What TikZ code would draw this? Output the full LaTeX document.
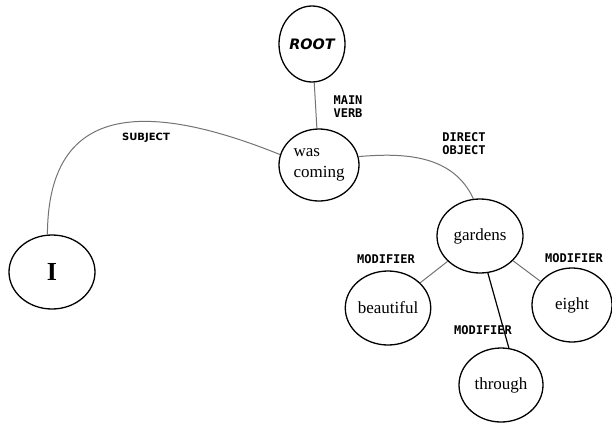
\documentclass[tikz,border=0pt]{standalone}
\usepackage{fontspec}
\setmainfont{Liberation Serif}
\setsansfont{DejaVu Sans}
\setmonofont{DejaVu Sans Mono}
\usetikzlibrary{shapes}

\begin{document}
\begin{tikzpicture}[x=1pt,y=-1pt]
\tikzstyle{word}=[ellipse,draw,line width=1.3pt,inner sep=0pt,minimum width=84,minimum height=74,font=\fontsize{17}{21}\selectfont]
\tikzstyle{rel}=[font=\ttfamily\bfseries\fontsize{12}{13}\selectfont,align=left,inner sep=0pt]
\tikzstyle{link}=[draw=black!55,line width=1pt]
\useasboundingbox (0,0) rectangle (612,423);
\node[word,minimum width=66,minimum height=76,font=\sffamily\bfseries\itshape\Large] (root) at (312,44) {ROOT};
\node[word,minimum width=80,minimum height=72,align=left] (verb) at (319,165) {was\\coming};
\node[word,minimum width=86,minimum height=74,font=\fontsize{26}{28}\selectfont\bfseries] (i) at (52,272) {I};
\node[word,minimum width=86] (gardens) at (480,236) {gardens};
\node[word] (beautiful) at (388,308) {beautiful};
\node[word,minimum width=80] (eight) at (572,305) {eight};
\node[word] (through) at (501,385) {through};
\node[rel] (mainverb) at (348,107) {MAIN\\VERB};
\node[rel,font=\sffamily\bfseries\fontsize{10}{12}\selectfont] (subject) at (146,138) {SUBJECT};
\node[rel] (dirobj) at (464,144) {DIRECT\\OBJECT};
\node[rel] (modl) at (386,259) {MODIFIER};
\node[rel] (modr) at (574,258) {MODIFIER};
\node[rel] (modb) at (483,330) {MODIFIER};
\draw[link] (root) -- (verb);
\draw[link] (i.97) .. controls (48,125) and (115,88) .. (verb.165);
\draw[link] (verb.12) to[out=5,in=115] (gardens.100);
\draw[link] (gardens) -- (beautiful);
\draw[link] (gardens) -- (eight);
\draw[line width=1.2pt] (gardens.-78) -- (through.78);
\end{tikzpicture}
\end{document}
